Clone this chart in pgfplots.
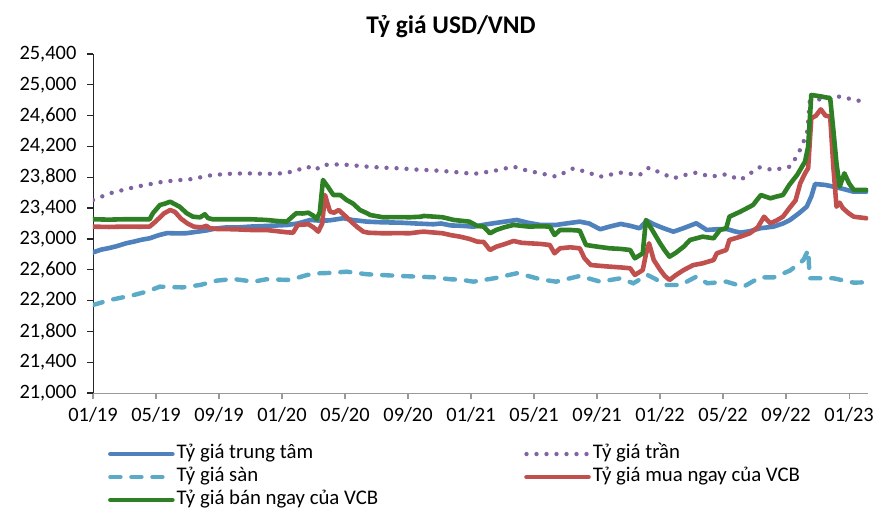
\documentclass[border=0pt]{standalone}
\usepackage{fontspec}
\setmainfont{Carlito}
\usepackage{pgfplots}
\pgfplotsset{compat=1.18}
\definecolor{cBlue}{RGB}{79,129,189}
\definecolor{cPurple}{RGB}{128,100,162}
\definecolor{cCyan}{RGB}{91,170,200}
\definecolor{cRed}{RGB}{192,80,77}
\definecolor{cGreen}{RGB}{47,128,36}
\begin{document}
\begin{tikzpicture}
\begin{axis}[
  at={(46.5pt,62.5pt)}, anchor=south west,
  scale only axis, width=387.5pt, height=169.5pt,
  xmin=0, xmax=49.2, ymin=21000, ymax=25400,
  axis lines=left, axis line style={-},
  x axis line style={draw=gray!80},
  y axis line style={draw=black!85},
  xtick={0,4,...,48},
  xticklabels={01/19,05/19,09/19,01/20,05/20,09/20,01/21,05/21,09/21,01/22,05/22,09/22,01/23},
  ytick={21000,21400,...,25400},
  scaled y ticks=false,
  tick align=outside, major tick length=3pt,
  xtick style={draw=gray!80, line width=0.6pt},
  ytick style={draw=black!85, line width=0.6pt},
  tick label style={font=\fontsize{10.2}{12}\selectfont, text=black},
  /pgf/number format/assume math mode=true,
  yticklabel style={xshift=-1.8pt, /pgf/number format/.cd, fixed, 1000 sep={,}},
  xticklabel style={yshift=-0.8pt},
  legend columns=2,
  legend cell align=left,
  legend image code/.code={\draw[#1] (0pt,0pt) -- (31pt,0pt);},
  legend style={
    at={(axis description cs:0.019,-0.145)}, anchor=north west,
    draw=none, fill=none, inner sep=0pt,
    font=\fontsize{10.4}{12}\selectfont,
    row sep=0pt,
    nodes={inner sep=0pt, text height=8pt, text depth=3.5pt},
    /tikz/every odd column/.append style={column sep=1pt},
    /tikz/column 2/.style={column sep=73pt},
  },
]
% Ty gia trung tam
\addplot[cBlue, line width=2.3pt, line join=round, line cap=round] coordinates {
(0,22825) (0.5,22860) (1,22880) (1.5,22905) (2.1,22943) (2.6,22965) (3.1,22990) (3.6,23008) (4.2,23050) (4.7,23075) (5.3,23072) (5.9,23073) (6.5,23090) (7.2,23110) (7.8,23135) (8.5,23150) (9.3,23150) (10,23160) (11,23168) (12.3,23180) (13,23200) (13.8,23246) (14.4,23237) (15,23240) (15.9,23268) (16.5,23245) (17.4,23224) (18.4,23215) (19.5,23211) (20.5,23200) (21.6,23190) (22.1,23200) (22.7,23175) (23.4,23170) (24.15,23159) (25,23190) (26,23220) (26.9,23246) (27.6,23210) (28.4,23181) (29.4,23181) (30.2,23205) (30.9,23224) (31.5,23200) (32.2,23125) (32.8,23160) (33.5,23194) (34.1,23170) (34.7,23138) (35.16,23237) (35.6,23190) (36.2,23140) (36.85,23094) (37.5,23140) (38.3,23203) (38.96,23116) (39.6,23125) (40.23,23129) (40.7,23100) (41.1,23081) (41.7,23100) (42.35,23138) (43.2,23159) (43.8,23200) (44.25,23246) (44.8,23330) (45.31,23418) (45.6,23550) (45.84,23713) (46.5,23700) (47.0,23678) (47.6,23650) (48.27,23613) (49.1,23613)
};
\addlegendentry{Tỷ giá trung tâm}
% Ty gia tran
\addplot[cPurple, line width=2.2pt, line cap=round, dash pattern=on 0pt off 5pt] coordinates {
(0,23505) (1.08,23592) (2,23640) (2.77,23678) (3.6,23710) (4.46,23743) (5.3,23760) (6.16,23774) (7.6,23830) (8.7,23845) (9.76,23851) (11,23845) (12.1,23851) (12.8,23880) (13.6,23938) (14.1,23894) (14.6,23960) (15.7,23968) (16.5,23955) (17.4,23938) (18.4,23925) (19.5,23916) (20.5,23900) (21.6,23890) (22.7,23873) (23.4,23860) (24.15,23843) (25.4,23880) (26.7,23938) (27.5,23890) (28.4,23851) (29.4,23808) (30.5,23916) (31.3,23870) (32.2,23808) (33.5,23860) (34.7,23830) (35.3,23925) (36,23860) (36.85,23787) (37.6,23830) (38.3,23860) (39.2,23808) (40.2,23838) (41.1,23765) (42.3,23929) (43.2,23894) (44.25,23938) (44.6,24047) (45.0,24200) (45.35,24400) (45.5,24781) (46.5,24830) (47.4,24847) (48.9,24781)
};
\addlegendentry{Tỷ giá trần}
% Ty gia san
\addplot[cCyan, line width=2.2pt, line cap=round, dash pattern=on 5pt off 5.5pt] coordinates {
(0,22142) (1.08,22207) (2.6,22272) (3.4,22315) (4.25,22380) (5.0,22375) (5.7,22371) (6.8,22402) (7.85,22458) (8.9,22480) (10.2,22445) (11,22476) (12.5,22467) (13.6,22532) (14.4,22554) (15.2,22560) (16.1,22575) (17.4,22541) (19.5,22519) (21.6,22502) (22.7,22476) (23.4,22470) (24.15,22445) (25.5,22490) (26.9,22554) (27.6,22520) (28.4,22476) (29.4,22445) (30.9,22519) (32.2,22445) (33.5,22489) (34.3,22424) (35.2,22532) (35.7,22480) (36.4,22402) (37.3,22402) (38.3,22510) (39.0,22424) (40.2,22445) (41.3,22380) (42.35,22502) (43.2,22500) (44.25,22589) (45.1,22726) (45.4,22856) (45.5,22489) (47.0,22489) (48.3,22432) (49.1,22437)
};
\addlegendentry{Tỷ giá sàn}
% Ty gia mua ngay cua VCB
\addplot[cRed, line width=2.3pt, line join=round, line cap=round] coordinates {
(0,23159) (1,23155) (2,23160) (3,23158) (3.6,23160) (4.0,23230) (4.5,23330) (4.9,23375) (5.2,23350) (5.6,23260) (6.0,23200) (6.4,23159) (6.9,23150) (7.2,23170) (7.4,23140) (7.85,23129) (9,23125) (10,23116) (11,23116) (12.3,23086) (12.7,23080) (13.0,23181) (13.67,23190) (14.0,23150) (14.3,23094) (14.55,23200) (14.73,23570) (14.9,23450) (15.05,23354) (15.3,23340) (15.6,23375) (16.0,23300) (16.5,23203) (16.8,23150) (17.16,23094) (17.5,23080) (18.4,23073) (19.5,23075) (20.1,23073) (20.76,23090) (21.0,23094) (22.2,23073) (22.67,23051) (23.3,23029) (23.9,23000) (24.4,22964) (24.8,22960) (25.2,22856) (25.6,22899) (26.1,22930) (26.7,22973) (27.2,22950) (27.7,22943) (28.4,22935) (29.0,22921) (29.3,22813) (29.65,22878) (30.3,22891) (30.9,22878) (31.2,22750) (31.6,22661) (32.2,22650) (32.8,22640) (33.5,22630) (34.1,22619) (34.4,22532) (34.9,22596) (35.1,22800) (35.3,22943) (35.6,22726) (36.0,22600) (36.3,22520) (36.6,22467) (37.0,22530) (37.5,22596) (38.1,22660) (38.7,22683) (39.4,22726) (39.6,22813) (40.2,22856) (40.4,22986) (41.1,23029) (41.7,23073) (42.2,23150) (42.6,23288) (43.0,23203) (43.4,23240) (43.8,23288) (44.2,23397) (44.6,23500) (44.9,23722) (45.2,23850) (45.4,23917) (45.6,24566) (45.9,24600) (46.2,24682) (46.5,24600) (46.8,24587) (47.0,23938) (47.2,23418) (47.4,23470) (47.6,23400) (47.97,23333) (48.3,23288) (49.1,23268)
};
\addlegendentry{Tỷ giá mua ngay của VCB}
% Ty gia ban ngay cua VCB
\addplot[cGreen, line width=2.3pt, line join=round, line cap=round] coordinates {
(0,23255) (1,23250) (2,23255) (3,23255) (3.6,23255) (3.8,23333) (4.25,23440) (4.6,23460) (4.9,23483) (5.2,23450) (5.5,23418) (5.95,23333) (6.35,23288) (6.8,23280) (7.1,23320) (7.3,23270) (7.6,23255) (9,23255) (10,23255) (11,23246) (11.66,23233) (12.3,23224) (12.9,23333) (13.3,23330) (13.67,23340) (14.0,23300) (14.2,23255) (14.4,23350) (14.6,23765) (14.9,23680) (15.26,23570) (15.7,23570) (16.1,23505) (16.5,23460) (16.95,23375) (17.4,23333) (17.6,23310) (18.4,23281) (19.5,23283) (20.1,23281) (20.8,23288) (21.0,23298) (22.2,23281) (22.9,23246) (23.9,23224) (24.4,23168) (24.8,23160) (25.2,23073) (25.6,23116) (26.1,23150) (26.7,23181) (27.2,23170) (27.7,23159) (28.4,23165) (29.0,23159) (29.3,23051) (29.65,23116) (30.3,23116) (30.9,23107) (31.3,22921) (32.0,22900) (32.8,22878) (33.5,22870) (34.1,22856) (34.4,22748) (34.9,22813) (35.1,23246) (35.5,23116) (36.0,22943) (36.3,22850) (36.6,22769) (37.0,22820) (37.5,22899) (37.9,22986) (38.7,23029) (39.4,23008) (39.8,23116) (40.2,23138) (40.4,23288) (41.1,23354) (41.9,23440) (42.4,23570) (43.0,23527) (43.4,23550) (43.8,23570) (44.2,23700) (44.7,23830) (45.2,24003) (45.4,24197) (45.6,24868) (46.2,24850) (46.8,24825) (47.0,24414) (47.2,23981) (47.4,23678) (47.7,23851) (48.0,23720) (48.3,23635) (49.1,23635)
};
\addlegendentry{Tỷ giá bán ngay của VCB}
\end{axis}
\node[anchor=base, font=\bfseries\fontsize{12.7}{14}\selectfont] at (225.5pt,242.3pt) {Tỷ giá USD/VND};
\pgfresetboundingbox
\useasboundingbox (0,0) rectangle (442pt,259pt);
\end{tikzpicture}
\end{document}
